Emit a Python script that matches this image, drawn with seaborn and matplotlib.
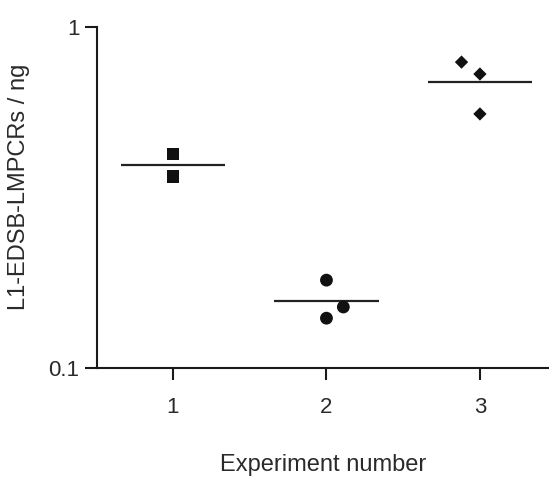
import matplotlib
matplotlib.use("Agg")
import matplotlib.pyplot as plt
import numpy as np
import pandas as pd
import seaborn as sns

# values (log scale)
experiment = [1, 1, 2, 2, 2, 3, 3, 3]
x_pos = [1.0, 1.0, 2.0, 2.11, 2.0, 2.88, 3.0, 3.0]
amount_ng = [0.424, 0.364, 0.181, 0.151, 0.140, 0.789, 0.728, 0.556]
group_markers = {1: "s", 2: "o", 3: "D"}
group_sizes = {1: 80, 2: 85, 3: 46}
x_ticks = [1, 2, 3]
y_ticks = [0.1, 1]
y_tick_labels = ["0.1", "1"]

df = pd.DataFrame({"experiment": experiment, "x": x_pos, "amount": amount_ng})
means = df.groupby("experiment")["amount"].mean()

sns.set_theme(style="ticks")
plt.rcParams["font.family"] = ["Liberation Sans", "DejaVu Sans"]
text_color = "#2a2a2a"

fig = plt.figure(figsize=(5.49, 4.78), dpi=100)
ax = fig.add_axes([0.1767, 0.2301, 0.8233, 0.7134])

for grp, sub in df.groupby("experiment"):
    sns.scatterplot(data=sub, x="x", y="amount", marker=group_markers[grp],
                    s=group_sizes[grp], color="#111111", edgecolor="none",
                    linewidth=0, ax=ax, legend=False, zorder=3)

half = 0.34
ax.hlines(means.values, means.index - half, means.index + half,
          color="#222222", linewidth=1.6, zorder=2)

ax.set_yscale("log")
ax.set_ylim(0.1, 1)
ax.set_xlim(0.505, 3.45)
ax.set_yticks(y_ticks)
ax.set_yticklabels(y_tick_labels)
ax.yaxis.set_minor_locator(matplotlib.ticker.NullLocator())
ax.set_xticks(x_ticks)
ax.set_xticklabels([str(t) for t in x_ticks])

for side in ["top", "right"]:
    ax.spines[side].set_visible(False)
for side in ["left", "bottom"]:
    ax.spines[side].set_linewidth(1.5)
    ax.spines[side].set_color("#1a1a1a")

ax.tick_params(axis="x", length=8.6, width=1.5, pad=12, labelsize=16,
               color="#1a1a1a", labelcolor=text_color)
ax.tick_params(axis="y", length=8.6, width=1.5, pad=4, labelsize=16,
               color="#1a1a1a", labelcolor=text_color)

ax.set_xlabel("Experiment number", fontsize=17, color=text_color, labelpad=26)
ax.set_ylabel("L1-EDSB-LMPCRs / ng", fontsize=17, color=text_color)
ax.yaxis.set_label_coords(-0.148, 0.531)

fig.savefig("out.png", dpi=100)
